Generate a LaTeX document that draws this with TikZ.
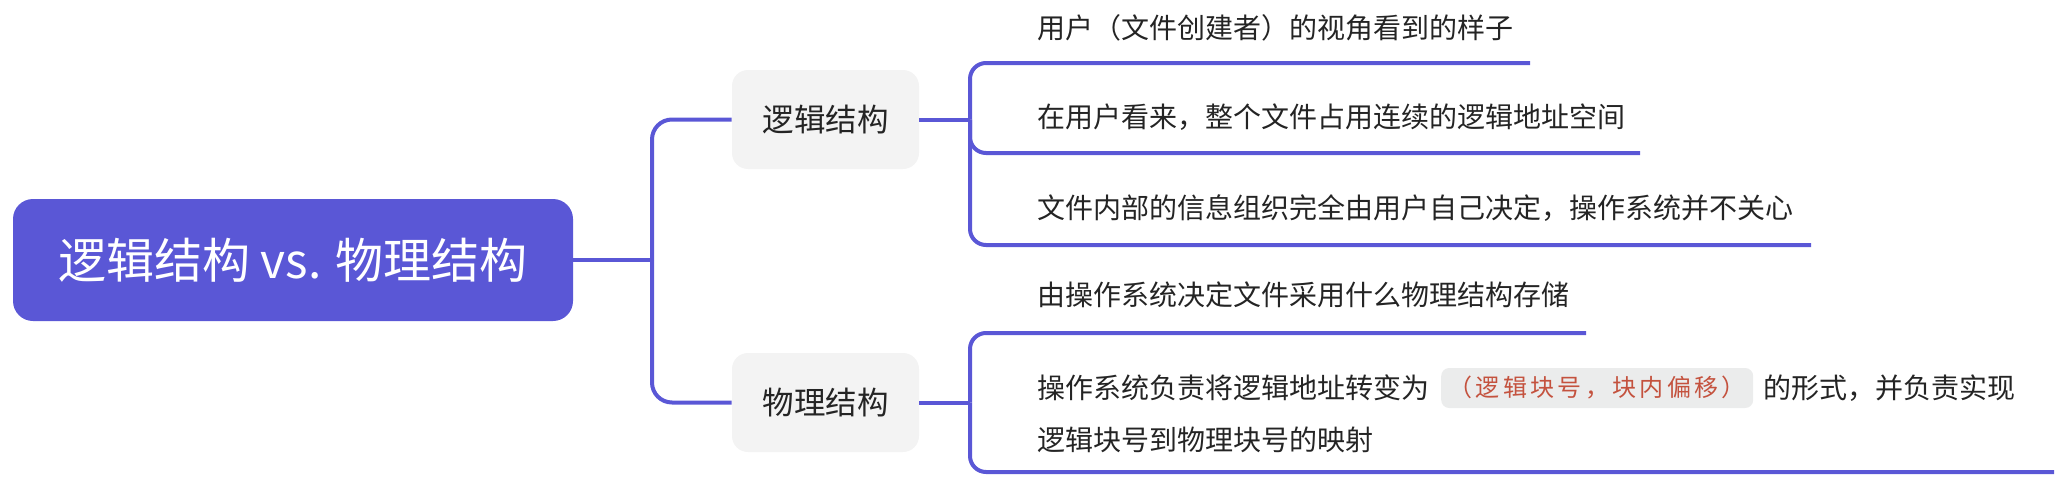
\documentclass[tikz,border=0pt]{standalone}
\usepackage{fontspec}
\setmainfont{Noto Sans CJK SC}
\newfontfamily\codefont[LetterSpace=14]{Noto Sans CJK SC}
\usepackage{xcolor}
\usetikzlibrary{positioning}
\definecolor{mapPurple}{RGB}{90,87,214}
\definecolor{mapGray}{RGB}{243,243,243}
\definecolor{mapInk}{RGB}{36,36,36}
\definecolor{mapCodeBg}{RGB}{235,236,236}
\definecolor{mapCode}{RGB}{196,82,62}

\begin{document}
\begin{tikzpicture}[
    x=0.5pt, y=-0.5pt,
    rootbox/.style={fill=mapPurple, rounded corners=10pt, minimum width=280pt, minimum height=61pt, text=white, font=\fontsize{24pt}{28pt}\selectfont},
    topic/.style={fill=mapGray, rounded corners=8pt, minimum width=93.5pt, minimum height=49.5pt, text=mapInk, font=\fontsize{15.75pt}{18pt}\selectfont},
    leaf/.style={anchor=west, inner sep=0pt, text=mapInk, font=\fontsize{14pt}{17pt}\selectfont},
    codebox/.style={fill=mapCodeBg, rounded corners=4pt, minimum width=156pt, minimum height=20pt, inner sep=0pt, text=mapCode, font=\codefont\fontsize{12pt}{14pt}\selectfont},
    link/.style={draw=mapPurple, line width=2pt, rounded corners=8pt}
]
    \useasboundingbox (0,0) rectangle (2057,487);

    \node[rootbox] (root) at (293,260) {逻辑结构 vs. 物理结构};
    \node[topic] (logic) at (825.5,119.5) {逻辑结构};
    \node[topic] (phys) at (825.5,402.5) {物理结构};

    % logical structure leaves
    \node[leaf] (l1) at (1037,28) {用户（文件创建者）的视角看到的样子};
    \node[leaf] (l2) at (1037,117) {在用户看来，整个文件占用连续的逻辑地址空间};
    \node[leaf] (l3) at (1037,208) {文件内部的信息组织完全由用户自己决定，操作系统并不关心};

    % physical structure leaves
    \node[leaf] (p1) at (1037,295) {由操作系统决定文件采用什么物理结构存储};
    \node[leaf] (p2a) at (1037,388) {操作系统负责将逻辑地址转变为};
    \node[codebox, right=5.5pt of p2a] (code) {（逻辑块号，块内偏移）};
    \node[leaf, right=4.5pt of code] (p2b) {的形式，并负责实现};
    \node[leaf] (p2c) at (1037,440) {逻辑块号到物理块号的映射};

    \coordinate (rj) at (652,260);
    \coordinate (lj) at (970,119.5);
    \coordinate (pj) at (970,402.5);
    \coordinate (l1e) at (1530,63);
    \coordinate (l2e) at (1640,153);
    \coordinate (l3e) at (1811,245);
    \coordinate (p1e) at (1586,333);
    \coordinate (p2e) at (2054,472);

    \draw[link] (root.east) -- (rj);
    \draw[link, rounded corners=10pt] (rj) |- (logic.west);
    \draw[link, rounded corners=10pt] (rj) |- (phys.west);

    \draw[link] (logic.east) -- (lj);
    \draw[link] (lj) |- (l1e);
    \draw[link] (lj) |- (l2e);
    \draw[link] (lj) |- (l3e);

    \draw[link] (phys.east) -- (pj);
    \draw[link] (pj) |- (p1e);
    \draw[link] (pj) |- (p2e);
\end{tikzpicture}
\end{document}
